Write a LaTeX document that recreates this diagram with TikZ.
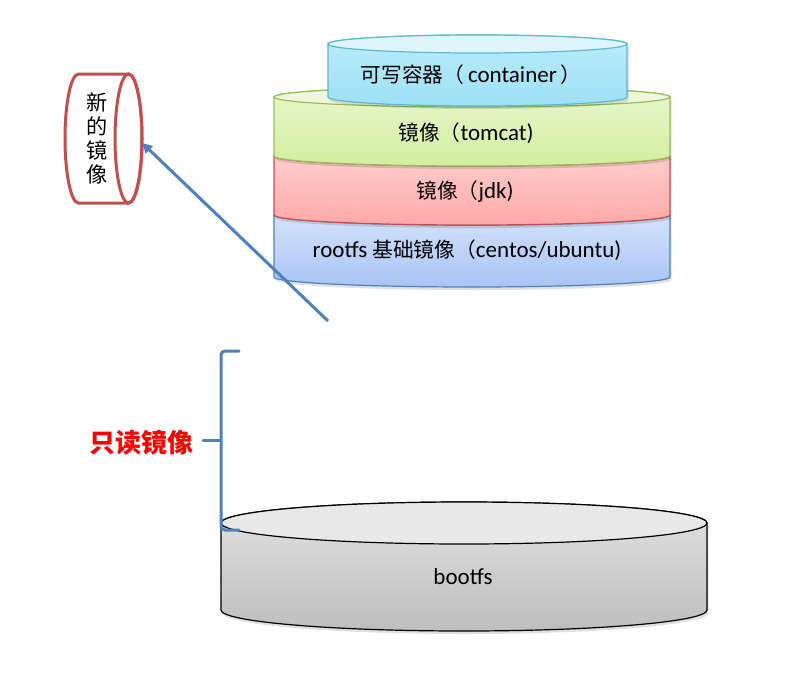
\documentclass[tikz,border=0pt]{standalone}
\usepackage{fontspec}
\setmainfont{Carlito}
\newfontfamily\cjk[Scale=0.9]{Noto Sans CJK SC}
\newfontfamily\cjkb[Scale=1.0]{Noto Sans CJK SC}
\usetikzlibrary{arrows.meta}
\definecolor{cBord}{HTML}{5DB8D0}
\definecolor{cTop}{HTML}{DDF5FB}
\definecolor{cB1}{HTML}{BAECFA}
\definecolor{cB2}{HTML}{9DE0F5}
\definecolor{tBord}{HTML}{9BBB59}
\definecolor{tTop}{HTML}{EEF8DC}
\definecolor{tB1}{HTML}{E8F7CC}
\definecolor{tB2}{HTML}{D2EEA0}
\definecolor{jBord}{HTML}{C0504D}
\definecolor{jB1}{HTML}{FFD2D2}
\definecolor{jB2}{HTML}{FFA8A8}
\definecolor{rBord}{HTML}{4F81BD}
\definecolor{rB1}{HTML}{D9E6FB}
\definecolor{rB2}{HTML}{A8C4F5}
\definecolor{gBord}{HTML}{000000}
\definecolor{gTop}{HTML}{E8E8E8}
\definecolor{gB1}{HTML}{E2E2E2}
\definecolor{gB2}{HTML}{BEBEBE}
\definecolor{arrowblue}{HTML}{4F81BD}
\definecolor{newred}{HTML}{C0504D}
% #1 cx, #2 rx, #3 ytop, #4 ybot, #5 ry, #6 border, #7 top fill, #8 body top, #9 body bottom
\newcommand\mycyl[9]{%
  \fill[black, opacity=0.12] ({#1-#2+1.5},{-#3-3}) -- ({#1-#2+1.5},{-#4-3})
     arc[start angle=180,end angle=360,x radius=#2,y radius=#5] -- ({#1+#2+1.5},{-#3-3}) -- cycle;
  \draw[draw=#6, line width=1.2pt, top color=#8, bottom color=#9]
     ({#1-#2},{-#3}) -- ({#1-#2},{-#4})
     arc[start angle=180,end angle=360,x radius=#2,y radius=#5]
     -- ({#1+#2},{-#3})
     arc[start angle=0,end angle=180,x radius=#2,y radius=#5] -- cycle;
  \draw[draw=#6, line width=1.2pt, fill=#7] (#1,{-#3}) ellipse[x radius=#2, y radius=#5];
}
\tikzset{
  layer/.style={font=\fontsize{23}{25}\selectfont, inner sep=0pt, text=black},
  ro/.style={font=\cjkb\bfseries\fontsize{26}{28}\selectfont, text=red, inner sep=0pt},
  vert/.style={font=\cjk\fontsize{23.5}{25}\selectfont, align=center, inner sep=0pt},
  bluebrace/.style={draw=arrowblue, line width=3pt, line cap=round, rounded corners=4pt},
  bluearrow/.style={draw=arrowblue, line width=3pt, -{Triangle[length=10pt,width=10pt]}, shorten >=0pt}
}
\begin{document}
\begin{tikzpicture}[x=1pt,y=1pt]
\useasboundingbox[fill=white] (0,0) rectangle (799,-688);
% bootfs
\mycyl{464}{243}{523}{610}{21}{gBord}{gTop}{gB1}{gB2}
% stack
\mycyl{472}{198}{215}{277}{10}{rBord}{rB1}{rB1}{rB2}
\mycyl{472}{198}{156}{215}{10}{jBord}{jB1}{jB1}{jB2}
\mycyl{472}{198}{97}{156}{10}{tBord}{tTop}{tB1}{tB2}
\mycyl{477.5}{149.5}{44}{97}{9}{cBord}{cTop}{cB1}{cB2}
% labels
\node[layer] (lc) at (471,-75) {{\cjk 可写容器（}\,container\,{\cjk ）}};
\node[layer] (lt) at (466,-133) {{\cjk 镜像（}tomcat)};
\node[layer] (lj) at (465,-192) {{\cjk 镜像（}jdk)};
\node[layer] (lr) at (467,-250) {rootfs {\cjk 基础镜像（}centos/ubuntu)};
\node[layer] (lb) at (463,-577) {bootfs};
% new image (horizontal cylinder)
\node[minimum width=77pt, minimum height=129pt, inner sep=0pt] (newimg) at (103.5,-138.5) {};
\draw[draw=newred, line width=3pt, fill=white]
  (128.5,-74) -- (78.5,-74) arc[start angle=90,end angle=270,x radius=13.5,y radius=64.5]
  -- (128.5,-203) arc[start angle=270,end angle=450,x radius=13.5,y radius=64.5] -- cycle;
\draw[draw=newred, line width=3pt] (128.5,-138.5) ellipse[x radius=13.5, y radius=64.5];
\node[vert] (nt) at (97,-138) {新\\[-1pt]的\\[-1pt]镜\\[-1pt]像};
% arrow
\coordinate (astart) at (328,-321);
\draw[bluearrow] (astart) -- ([yshift=-4.5pt]newimg.east);
% brace
\draw[bluebrace] (239,-351) -- (221,-351) -- (221,-530) -- (239,-530);
\draw[draw=arrowblue, line width=3pt, line cap=round] (221,-440) -- (203,-440);
\node[ro] (lro) at (141,-443) {只读镜像};
\end{tikzpicture}
\end{document}
